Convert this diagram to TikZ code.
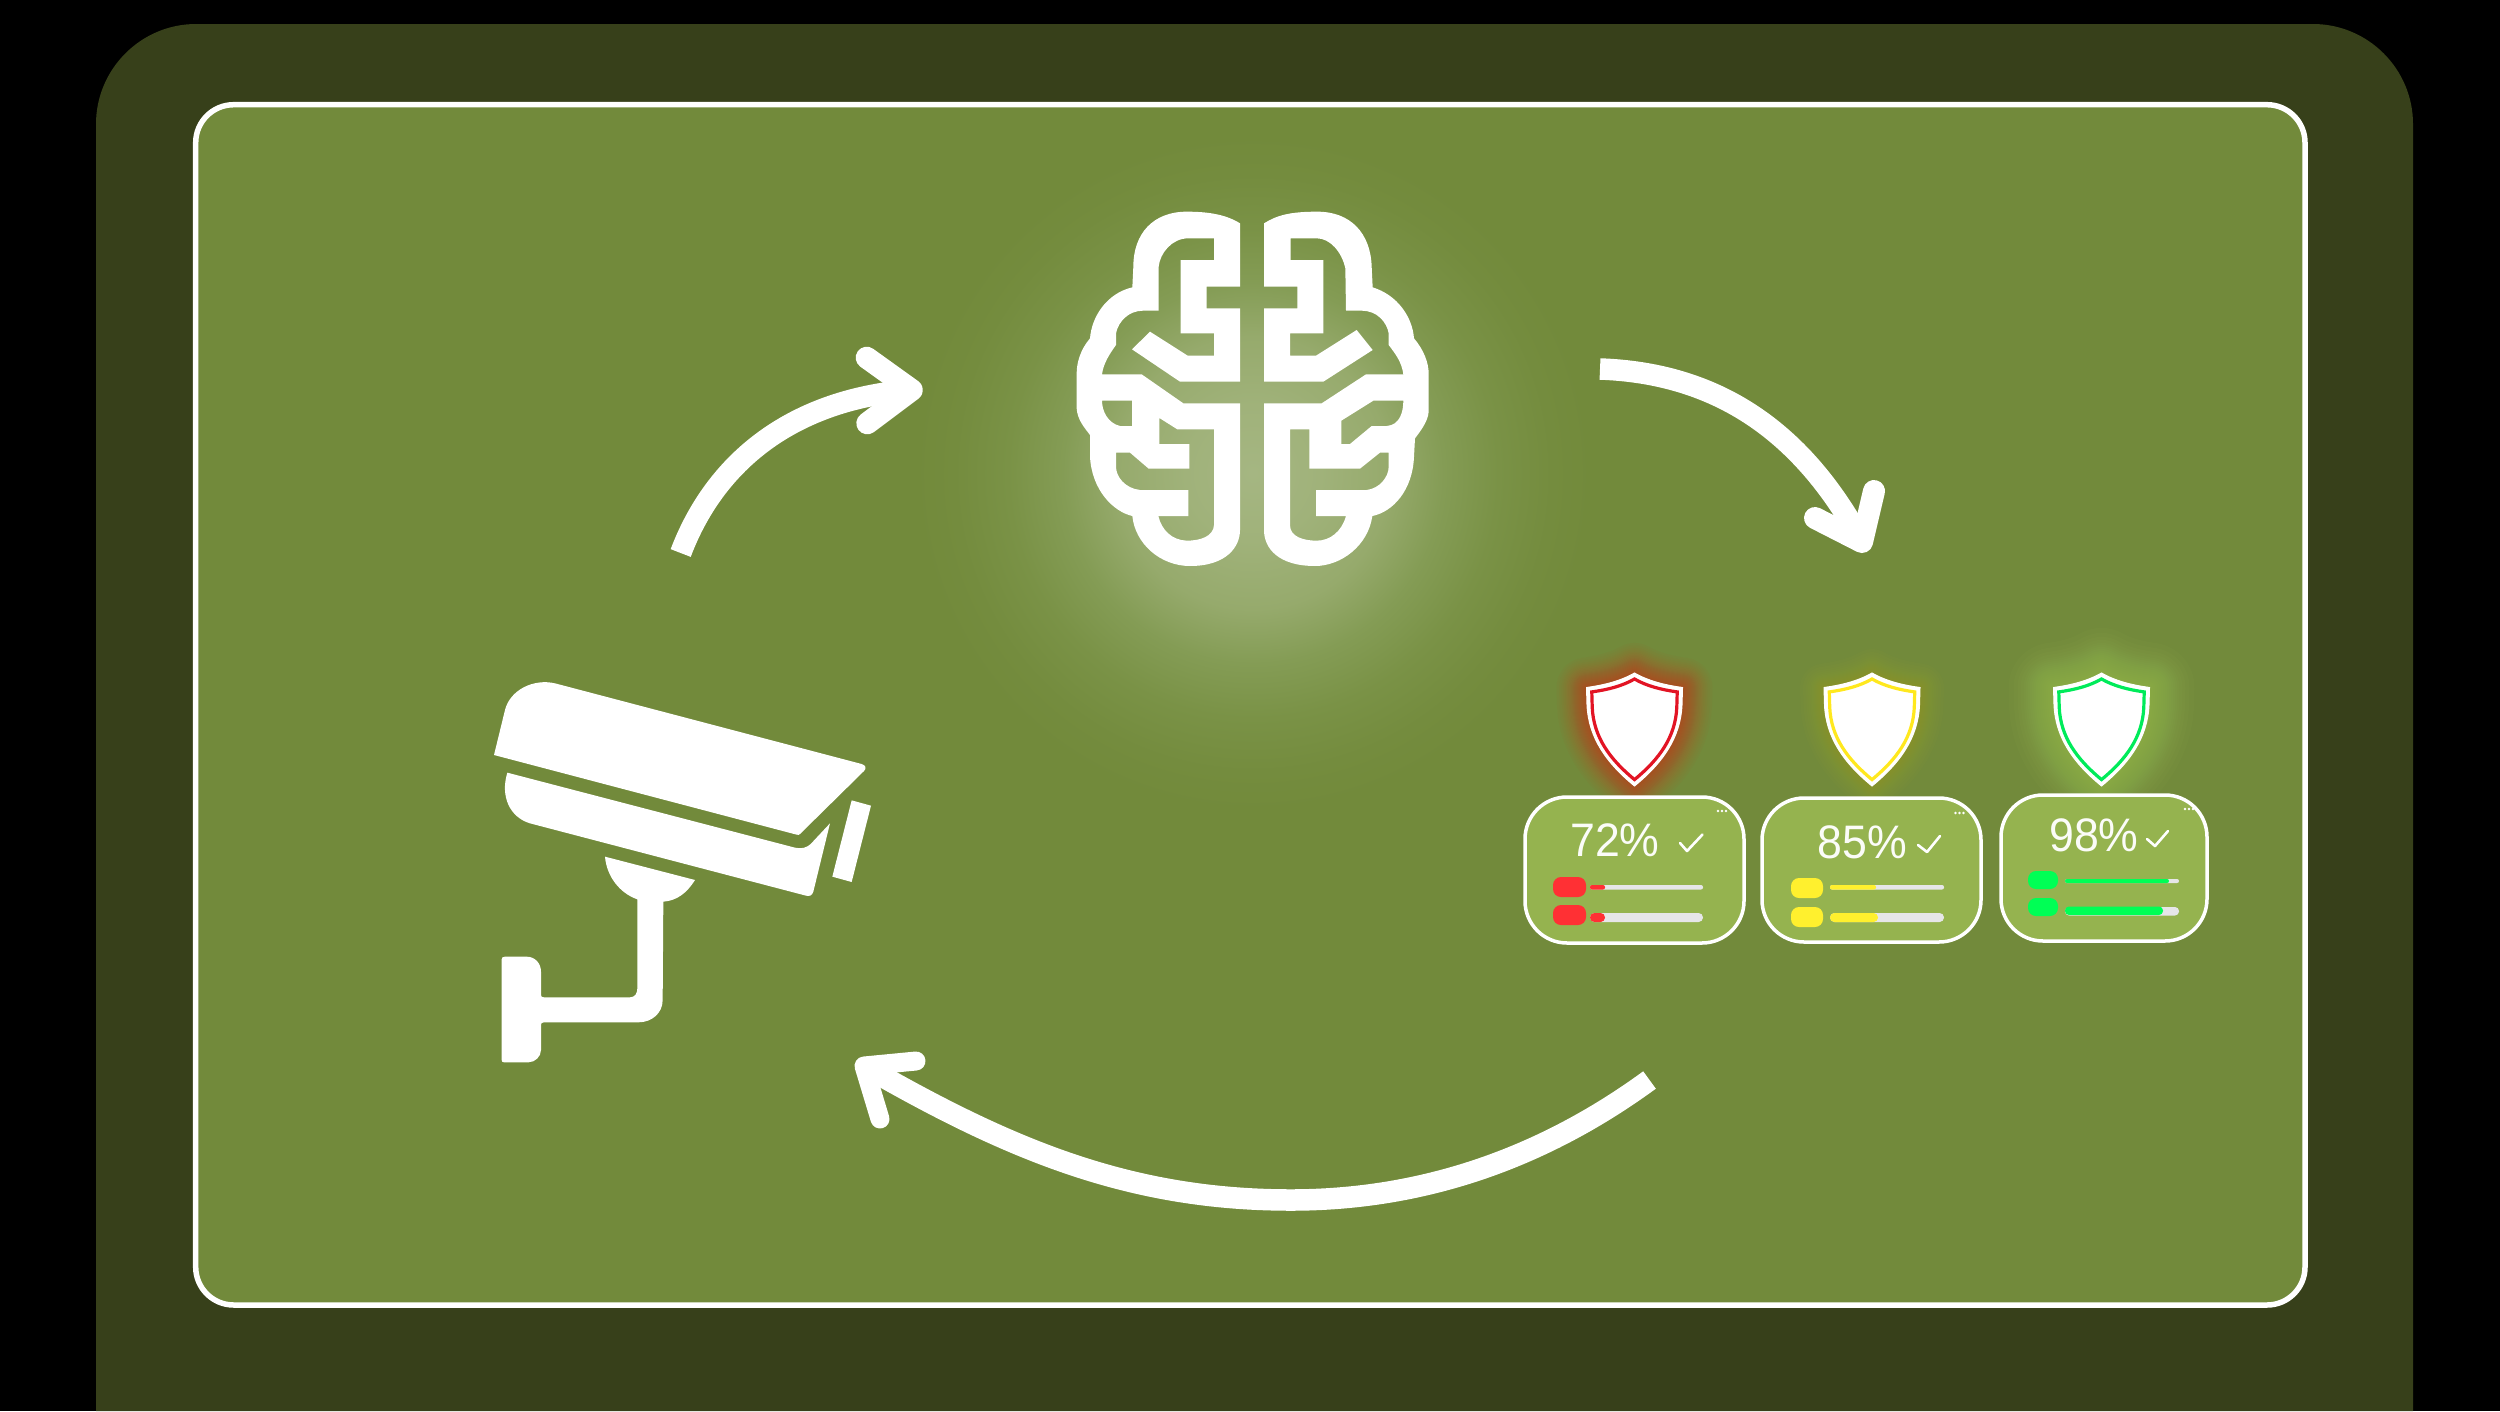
\documentclass[tikz,border=0pt]{standalone}
\usepackage{fontspec}
\setmainfont{Liberation Sans}
\definecolor{outerc}{RGB}{55,64,26}
\definecolor{panelc}{RGB}{114,138,59}
\definecolor{cardc}{RGB}{149,179,79}
\definecolor{trackc}{RGB}{230,230,232}
\definecolor{redc}{RGB}{255,48,52}
\definecolor{yelc}{RGB}{255,240,46}
\definecolor{grnc}{RGB}{0,255,85}
\definecolor{redline}{RGB}{226,20,36}
\definecolor{yelline}{RGB}{255,232,30}
\definecolor{grnline}{RGB}{0,235,90}
\definecolor{redglow}{RGB}{225,40,20}
\definecolor{yelglow}{RGB}{190,180,30}
\definecolor{grnglow}{RGB}{175,215,95}
\pgfdeclareradialshading{brainglow}{\pgfpointorigin}{%
 rgb(0bp)=(0.647,0.714,0.51);
 rgb(5bp)=(0.627,0.698,0.478);
 rgb(10bp)=(0.588,0.667,0.424);
 rgb(14bp)=(0.518,0.612,0.333);
 rgb(18bp)=(0.478,0.573,0.275);
 rgb(22bp)=(0.455,0.549,0.243);
 rgb(25bp)=(0.447,0.541,0.231);
 rgb(50bp)=(0.447,0.541,0.231)}
\tikzset{
 flow/.style={draw=white,line width=21.5pt},
 head/.style={draw=white,line width=22pt,line cap=round,line join=round},
 card/.style={draw=white,line width=3.5pt,fill=cardc,rounded corners=42pt},
 tick/.style={draw=white,line width=2.6pt,line cap=round,line join=round},
 pct/.style={text=white!96!cardc,inner sep=0pt,xscale=0.95,font=\fontsize{47}{47}\selectfont},
 shieldp/.style={insert path={(0,0) .. controls (14,8) and (30,12) .. (48,14.5) -- (47.5,32) .. controls (46,65) and (28,90) .. (0,113) .. controls (-28,90) and (-46,65) .. (-47.5,32) -- (-48,14.5) .. controls (-30,12) and (-14,8) .. (0,0) -- cycle}},
}
\newcommand{\pillbar}[6]{\fill[#6,rounded corners=#5pt] (#1,#2) rectangle (#3,#4);}
\newcommand{\shieldat}[5]{%
 \begin{scope}[shift={(#1,673)}]
  \foreach \w in {#4}{\path[shieldp,fill=#3,draw=#3,opacity=#5,line width=\w pt,line join=round];}
  \path[shieldp,fill=white,draw=white,line width=1pt,line join=miter];
  \begin{scope}[shift={(0,6)},scale=0.89]
   \path[shieldp,draw=#2,line width=3.2pt,fill=white];
  \end{scope}
 \end{scope}}
\newcommand{\dotsat}[2]{\fill[white] (#1,#2) circle (1.3) (#1+4,#2) circle (1.3) (#1+8,#2) circle (1.3);}
\begin{document}
\begin{tikzpicture}[x=1pt,y=-1pt]
\useasboundingbox (0,0) rectangle (2500,1411);
\fill[black] (0,0) rectangle (2500,1411);
% outer frame
\fill[outerc] (96,1411) -- (96,124) .. controls (96,69) and (141,24) .. (196,24) -- (2313,24) .. controls (2368,24) and (2413,69) .. (2413,124) -- (2413,1411) -- cycle;
% panel
\draw[white,line width=5.5pt,fill=panelc,rounded corners=38pt] (195.7,104.7) rectangle (2305,1305);
% brain glow
\shade[shading=brainglow] (1253,473) circle (340);
% brain
\begin{scope}[shift={(1040,190)},x=0.33333pt,y=-0.33333pt]
\fill[white,even odd rule]
 (600,100) .. controls (560,75) and (510,65) .. (440,65) .. controls (340,65) and (280,130) .. (280,230) -- (277,292) .. controls (200,310) and (155,380) .. (150,445) .. controls (120,480) and (110,520) .. (110,550) -- (110,655) .. controls (112,690) and (135,715) .. (150,735) -- (150,800) .. controls (155,900) and (220,965) .. (277,978) .. controls (285,1060) and (360,1128) .. (450,1128) .. controls (560,1128) and (600,1070) .. (600,1020) -- (600,640) -- (430,640) -- (305,553) -- (186,553) .. controls (190,520) and (210,490) .. (228,465) -- (228,430) .. controls (235,395) and (265,362) .. (310,362) -- (356,362) -- (356,230) .. controls (360,190) and (395,145) .. (445,145) -- (522,145) -- (522,210) -- (422,210) -- (422,430) -- (522,430) -- (522,497) -- (443,497) -- (330,425) -- (276,478) -- (420,575) -- (600,575) -- (600,355) -- (500,355) -- (500,290) -- (600,290) -- cycle
 (186,632) -- (276,632) -- (276,708) -- (240,708) .. controls (205,700) and (186,665) .. (186,632) -- cycle
 (358,684) -- (412,718) -- (522,718) -- (522,1005) .. controls (520,1040) and (480,1052) .. (440,1052) .. controls (395,1050) and (365,1020) .. (355,978) -- (445,978) -- (445,900) -- (300,900) .. controls (255,895) and (228,860) .. (228,830) -- (228,788) -- (270,788) -- (326,836) -- (448,836) -- (448,762) -- (358,762) -- cycle;
\fill[white,even odd rule]
 (672,100) .. controls (712,75) and (752,65) .. (832,65) .. controls (932,65) and (992,130) .. (995,230) -- (998,292) .. controls (1072,315) and (1117,380) .. (1122,445) .. controls (1152,480) and (1166,520) .. (1166,550) -- (1166,665) .. controls (1164,695) and (1140,725) .. (1125,745) -- (1122,800) .. controls (1118,900) and (1060,965) .. (997,978) .. controls (985,1065) and (905,1128) .. (825,1128) .. controls (715,1128) and (672,1075) .. (672,1020) -- (672,640) -- (845,640) -- (978,553) -- (1090,553) .. controls (1085,515) and (1065,490) .. (1046,465) -- (1046,430) .. controls (1040,395) and (1010,362) .. (965,362) -- (918,362) -- (916,235) .. controls (905,185) and (870,145) .. (830,145) -- (752,145) -- (752,210) -- (850,210) -- (850,430) -- (750,430) -- (750,497) -- (828,497) -- (950,420) -- (998,480) -- (850,575) -- (672,575) -- (672,355) -- (772,355) -- (772,290) -- (672,290) -- cycle
 (1090,632) -- (1000,632) -- (904,692) -- (904,762) -- (930,762) -- (995,708) -- (1040,708) .. controls (1080,705) and (1090,665) .. (1090,632) -- cycle
 (750,718) -- (808,718) -- (808,836) -- (960,836) -- (1020,788) -- (1046,788) -- (1046,830) .. controls (1046,860) and (1020,895) .. (980,900) -- (828,900) -- (828,978) -- (918,978) .. controls (905,1025) and (870,1052) .. (830,1052) .. controls (790,1052) and (750,1040) .. (750,1005) -- cycle;
\end{scope}
% camera
\begin{scope}[shift={(470,660)},x=0.33333pt,y=-0.33333pt]
\fill[white] (72,285) -- (105,150) .. controls (120,90) and (190,55) .. (255,70) -- (1175,312) .. controls (1188,316) and (1190,325) .. (1182,333) -- (990,522) .. controls (988,525) and (985,525) .. (980,524) -- cycle;
\fill[white] (112,338) -- (975,563) .. controls (995,568) and (1012,562) .. (1022,552) -- (1080,490) -- (1030,695) .. controls (1026,708) and (1018,709) .. (1008,707) -- (180,490) .. controls (120,472) and (90,410) .. (112,338) -- cycle;
\fill[white] (1145,421) -- (1203,437) -- (1145,666) -- (1087,650) -- cycle;
\fill[white] (405,590) -- (675,660) .. controls (650,700) and (620,722) .. (580,725) -- (578,1020) .. controls (578,1060) and (545,1087) .. (505,1087) -- (222,1087) .. controls (215,1087) and (213,1090) .. (213,1095) -- (213,1170) .. controls (213,1190) and (195,1207) .. (175,1207) -- (102,1207) .. controls (97,1207) and (95,1204) .. (95,1200) -- (95,898) .. controls (95,893) and (98,890) .. (105,890) -- (170,890) .. controls (195,890) and (213,910) .. (213,935) -- (213,1005) .. controls (213,1010) and (216,1012) .. (222,1012) -- (480,1012) .. controls (495,1012) and (502,1000) .. (502,985) -- (502,718) .. controls (450,700) and (410,650) .. (405,590) -- cycle;
\end{scope}
% arrows
\coordinate (a1s) at (680.7,553);
\coordinate (a1t) at (911.7,390);
\coordinate (a1u) at (866.7,357.7);
\coordinate (a1d) at (867.3,423.3);
\draw[flow] (a1s) .. controls (713.3,466.7) and (786.7,400) .. (a1t);
\draw[head] (a1u) -- (a1t) -- (a1d);
\coordinate (a2s) at (1600,369);
\coordinate (a2t) at (1862,542);
\coordinate (a2u) at (1874,491);
\coordinate (a2d) at (1815,518);
\draw[flow] (a2s) .. controls (1713,373) and (1800,427) .. (a2t);
\draw[head] (a2u) -- (a2t) -- (a2d);
\coordinate (a3s) at (1649.5,1080);
\coordinate (a3m) at (1291,1200);
\coordinate (a3t) at (864,1066);
\coordinate (a3u) at (916,1061);
\coordinate (a3d) at (880,1119);
\draw[flow] (a3s) .. controls (1540,1160) and (1420,1200) .. (a3m) .. controls (1130,1200) and (1010,1150) .. (a3t);
\draw[head,line width=19pt] (a3u) -- (a3t) -- (a3d);
% shields
\shieldat{1634.5}{redline}{redglow}{2,4,6,8,10,12,14,16,18,20,22,24,26,28,30,33,36,39,42,46,50,55,60}{0.03}
\shieldat{1872}{yelline}{yelglow}{2,4,6,8,10,12,14,16,18,20,22,25,28,32,36,42,48}{0.026}
\shieldat{2101.5}{grnline}{grnglow}{4,8,12,16,20,24,28,32,36,40,44,48,52,56,60,66,72,80,90}{0.035}
% cards
\draw[card] (1525,797) rectangle (1744,943);
\draw[card] (1762,798) rectangle (1981,942);
\draw[card] (2001,795) rectangle (2207,941);
\node[pct] (t72) at (1615,840) {72\%};
\node[pct] (t85) at (1862.5,842.5) {85\%};
\node[pct] (t98) at (2094,835.5) {98\%};
\draw[tick] (1680,843) -- (1687,851) -- (1702.5,834.5);
\draw[tick] (1918,845) -- (1927,852) -- (1940,836);
\draw[tick] (2147,839) -- (2155,846) -- (2168,831);
\dotsat{1718}{811}
\dotsat{1955.5}{813}
\dotsat{2185}{809}
% bars 72
\pillbar{1553}{877}{1586}{897}{8}{redc}
\pillbar{1553}{905}{1586}{925}{8}{redc}
\pillbar{1590}{885}{1703}{889.5}{2}{trackc}
\pillbar{1590}{885}{1605}{889.5}{2}{redc}
\pillbar{1590}{913}{1703}{922}{4.4}{trackc}
\pillbar{1590}{913}{1605}{922}{4.4}{redc}
% bars 85
\pillbar{1791}{878}{1823}{898}{8}{yelc}
\pillbar{1791}{907}{1823}{927}{8}{yelc}
\pillbar{1830}{885}{1944}{889.5}{2}{trackc}
\pillbar{1830}{885}{1876}{889.5}{2}{yelc}
\pillbar{1830}{913}{1944}{922}{4.4}{trackc}
\pillbar{1830}{913}{1878}{922}{4.4}{yelc}
% bars 98
\pillbar{2028}{871}{2058}{889}{8}{grnc}
\pillbar{2028}{898}{2058}{916}{8}{grnc}
\pillbar{2065}{879}{2179}{883}{2}{trackc}
\pillbar{2065}{879}{2169}{883}{2}{grnc}
\pillbar{2065}{907}{2179}{915.5}{4}{trackc}
\pillbar{2065}{906.5}{2163}{915}{4}{grnc}
\end{tikzpicture}
\end{document}
